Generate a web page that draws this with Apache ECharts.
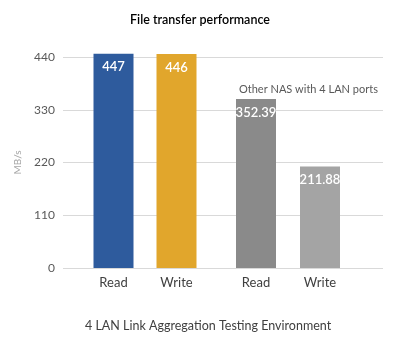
<!DOCTYPE html>
<html>
<head>
<meta charset="utf-8">
<script src="https://cdn.jsdelivr.net/npm/echarts@6/dist/echarts.min.js"></script>
<style>
  html, body { margin: 0; padding: 0; background: #ffffff; }
  #chart { width: 400px; height: 340px; }
</style>
</head>
<body>
<div id="chart"></div>
<script>
// Transfer speeds in MB/s
const categories = ['Read', 'Write'];
const thisNas = [447, 446];
const otherNas = [352.39, 211.88];
const thisNasColors = ['#2e5b9d', '#e1a62c'];
const otherNasColors = ['#8a8a8a', '#a4a4a4'];
const yMax = 440;
const yStep = 110;

const FONT = 'Lato';
const chart = echarts.init(document.getElementById('chart'), null, { renderer: 'canvas' });

function barSeries(values, colors, axisIndex) {
  return {
    type: 'bar',
    xAxisIndex: axisIndex,
    yAxisIndex: axisIndex,
    barWidth: 40,
    clip: false,
    data: values.map((v, i) => ({ value: v, itemStyle: { color: colors[i] } })),
    label: {
      show: true,
      position: 'insideTop',
      distance: 7,
      color: '#ffffff',
      fontFamily: FONT,
      fontSize: 13,
      fontWeight: 600
    },
    emphasis: { disabled: true }
  };
}

const hiddenY = { type: 'value', min: 0, max: yMax, interval: yStep, show: false };
const groupX = (gi) => ({
  type: 'category',
  gridIndex: gi,
  data: categories,
  axisLine: { show: false },
  axisTick: { show: false },
  axisLabel: { color: '#404040', fontFamily: FONT, fontSize: 13, margin: 8 }
});

chart.setOption({
  animation: false,
  title: [
    {
      text: 'File transfer performance',
      left: 'center',
      top: 8,
      textStyle: { fontFamily: FONT, fontSize: 12.5, fontWeight: 600, color: '#000000' }
    },
    {
      text: 'Other NAS with 4 LAN ports',
      left: 234,
      top: 79,
      textStyle: { fontFamily: FONT, fontSize: 11, fontWeight: 'normal', color: '#595959' }
    },
    {
      text: '4 LAN Link Aggregation Testing Environment',
      left: 80,
      top: 314,
      textStyle: { fontFamily: FONT, fontSize: 12.5, fontWeight: 'normal', color: '#404040' }
    }
  ],
  grid: [
    { left: 63, right: 17, top: 57, bottom: 72 },
    { left: 82, width: 126, top: 57, bottom: 72 },
    { left: 224, width: 128, top: 57, bottom: 72 }
  ],
  xAxis: [
    { type: 'category', gridIndex: 0, data: [''], show: false },
    groupX(1),
    groupX(2)
  ],
  yAxis: [
    {
      type: 'value',
      gridIndex: 0,
      min: 0,
      max: yMax,
      interval: yStep,
      name: 'MB/s',
      nameLocation: 'middle',
      nameRotate: 90,
      nameGap: 29,
      nameTextStyle: { color: '#a6a6a6', fontFamily: FONT, fontSize: 10 },
      axisLine: { show: false },
      axisTick: { show: false },
      axisLabel: { color: '#595959', fontFamily: FONT, fontSize: 12, margin: 8 },
      splitLine: { lineStyle: { color: '#d9d9d9', width: 1 } }
    },
    Object.assign({ gridIndex: 1 }, hiddenY),
    Object.assign({ gridIndex: 2 }, hiddenY)
  ],
  series: [
    barSeries(thisNas, thisNasColors, 1),
    barSeries(otherNas, otherNasColors, 2)
  ]
});
</script>
</body>
</html>
